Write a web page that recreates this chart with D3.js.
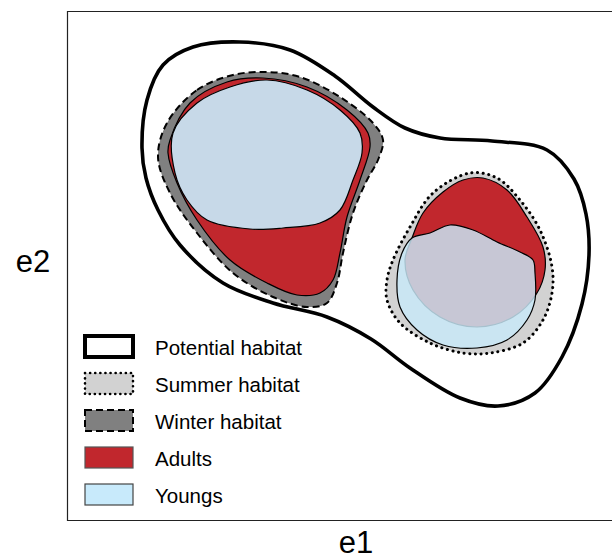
<!DOCTYPE html>
<html>
<head>
<meta charset="utf-8">
<script src="https://cdn.jsdelivr.net/npm/d3@7"></script>
<style>
  body { margin: 0; background: #fff; }
  svg { display: block; font-family: "Liberation Sans", Arial, sans-serif; }
</style>
</head>
<body>
<svg id="chart"></svg>
<script>
// outlines of the niche spaces, in (e1, e2) units
const potentialHabitat = [
  [75,372],[80,420],[96,455],[126,473],[173,478],[223,470],[268,444],[306,413],
  [338,392],[373,382],[425,379],[480,370],[507,341],[519,306],[522,265],[515,216],
  [495,163],[468,127],[431,114],[393,122],[343,152],[304,181],[260,203],[206,217],
  [156,237],[113,275],[91,310],[79,342]
];
const winterHabitat = [
  [100,397],[130,430],[166,445],[200,448],[233,443],[273,423],[306,397],[316,380],
  [311,360],[300,340],[286,307],[276,267],[270,237],[260,217],[240,213],[206,223],
  [166,247],[130,287],[103,327],[91,363]
];
const summerHabitat = [
  [326,260],[343,293],[366,327],[403,347],[430,342],[453,320],[473,290],[485,253],
  [485,227],[476,200],[456,177],[423,167],[396,167],[363,177],[333,197],[320,220],[320,240]
];
const adultsWinter = [
  [103,380],[123,417],[160,438],[196,442],[240,433],[280,410],[301,387],[303,373],
  [293,340],[280,303],[273,267],[266,240],[253,227],[230,225],[200,237],[163,260],
  [130,300],[110,337],[101,367]
];
const adultsSummer = [
  [345,282],[356,307],[376,328],[396,340],[416,342],[440,330],[460,303],[476,273],
  [478,250],[470,227],[446,203],[410,193],[373,203],[346,230],[338,260]
];
const youngsWinter = [
  [106,387],[130,417],[163,433],[200,440],[240,430],[273,410],[293,387],[295,367],
  [286,340],[273,310],[253,297],[216,292],[183,291],[140,300],[120,320],[108,347]
];
const youngsSummer = [
  [345,282],[363,287],[383,295],[406,290],[430,278],[453,268],[466,260],[468,247],
  [468,220],[460,200],[440,180],[410,172],[376,175],[350,190],[333,213],[330,240],[335,267]
];

const legendLabels = ["Potential habitat", "Summer habitat", "Winter habitat", "Adults", "Youngs"];
const axisLabels = ["e1", "e2"];

const width = 612, height = 559;
const frame = { left: 67, top: 11, right: 612, bottom: 520 };

const svg = d3.select("#chart")
  .attr("width", width)
  .attr("height", height);

const x = d3.scaleLinear().domain([0, 545]).range([frame.left, frame.right]);
const y = d3.scaleLinear().domain([0, 509]).range([frame.bottom, frame.top]);

const blob = d3.line()
  .x(d => x(d[0]))
  .y(d => y(d[1]))
  .curve(d3.curveCatmullRomClosed.alpha(0.5));

const red = "#c1272d", lightBlue = "#c8e8f8", summerGrey = "#d2d2d2", winterGrey = "#808080";

// frame (right edge runs off the picture)
svg.append("path")
  .attr("d", `M${width + 2},${frame.top + 0.5}H${frame.left + 0.5}V${frame.bottom + 0.5}H${width + 2}`)
  .attr("fill", "none")
  .attr("stroke", "#222")
  .attr("stroke-width", 1.2);

// potential habitat
svg.append("path")
  .attr("d", blob(potentialHabitat))
  .attr("fill", "#fff")
  .attr("stroke", "#000")
  .attr("stroke-width", 3.6);

// winter + summer habitats
svg.append("path")
  .attr("d", blob(winterHabitat))
  .attr("fill", winterGrey)
  .attr("stroke", "#000")
  .attr("stroke-width", 2)
  .attr("stroke-dasharray", "7 4");

svg.append("path")
  .attr("d", blob(summerHabitat))
  .attr("fill", summerGrey)
  .attr("stroke", "#000")
  .attr("stroke-width", 3)
  .attr("stroke-linecap", "round")
  .attr("stroke-dasharray", "0.1 5.6");

// adults
[adultsWinter, adultsSummer].forEach(pts => {
  svg.append("path")
    .attr("d", blob(pts))
    .attr("fill", red)
    .attr("stroke", "#000")
    .attr("stroke-width", 1.2);
});

// youngs (see-through where they overlap adults)
[[youngsWinter, 0.92], [youngsSummer, 0.83]].forEach(([pts, op]) => {
  svg.append("path")
    .attr("d", blob(pts))
    .attr("fill", lightBlue)
    .attr("fill-opacity", op)
    .attr("stroke", "#000")
    .attr("stroke-width", 1.2);
});

// axis titles
svg.append("text")
  .attr("x", 356)
  .attr("y", 553)
  .attr("text-anchor", "middle")
  .style("font-size", "31px")
  .text(axisLabels[0]);

svg.append("text")
  .attr("x", 33)
  .attr("y", 272)
  .attr("text-anchor", "middle")
  .style("font-size", "31px")
  .text(axisLabels[1]);

// legend
const legendStyles = [
  { fill: "#fff", stroke: "#000", sw: 4, dash: null },
  { fill: summerGrey, stroke: "#000", sw: 2.6, dash: "0.1 5", cap: "round" },
  { fill: winterGrey, stroke: "#000", sw: 2, dash: "7 4" },
  { fill: red, stroke: "#555", sw: 1.2, dash: null },
  { fill: "#c8eafb", stroke: "#444", sw: 1.2, dash: null }
];

const legend = svg.append("g").attr("transform", "translate(85,336)");
legendLabels.forEach((label, i) => {
  const s = legendStyles[i];
  legend.append("rect")
    .attr("x", 0)
    .attr("y", i * 37)
    .attr("width", 48)
    .attr("height", 21)
    .attr("fill", s.fill)
    .attr("stroke", s.stroke)
    .attr("stroke-width", s.sw)
    .attr("stroke-dasharray", s.dash)
    .attr("stroke-linecap", s.cap || "butt");
  legend.append("text")
    .attr("x", 70)
    .attr("y", i * 37 + 19)
    .style("font-size", "20.5px")
    .text(label);
});
</script>
</body>
</html>
